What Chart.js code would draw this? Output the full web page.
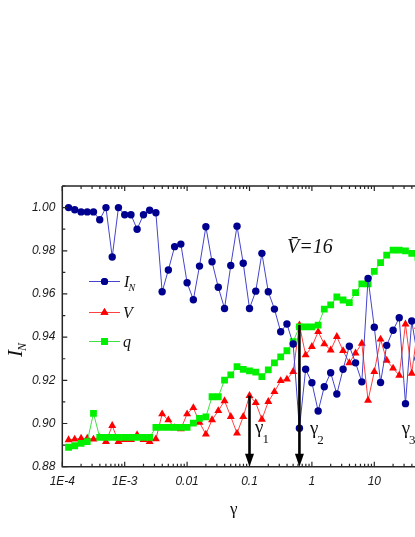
<!DOCTYPE html>
<html><head><meta charset="utf-8">
<script src="https://cdn.jsdelivr.net/npm/chart.js@4.4.0/dist/chart.umd.min.js"></script>
<style>
html,body{margin:0;padding:0;background:#fff;overflow:hidden;}
#wrap{width:415px;height:537px;overflow:hidden;position:relative;background:#fff;}
canvas{display:block;}
</style></head><body>
<div id="wrap"><canvas id="c" width="480" height="537"></canvas></div>
<script>
// ---- data ----
const gamma = [
  1.26e-4,1.58e-4,2.0e-4,2.51e-4,3.16e-4,3.98e-4,5.01e-4,6.31e-4,7.94e-4,1.0e-3,
  1.26e-3,1.58e-3,2.0e-3,2.51e-3,3.16e-3,3.98e-3,5.01e-3,6.31e-3,7.94e-3,0.01,
  0.0126,0.0158,0.02,0.0251,0.0316,0.0398,0.0501,0.0631,0.0794,0.1,
  0.126,0.158,0.2,0.251,0.316,0.398,0.501,0.631,0.794,1,
  1.26,1.58,2.0,2.51,3.16,3.98,5.01,6.31,7.94,10,
  12.6,15.8,20,25.1,31.6,39.8,50.1
];
const iN = [
  1.000,0.999,0.998,0.998,0.998,0.9944,1.000,0.9771,1.000,0.9967,
  0.9967,0.990,0.9967,0.9988,0.9976,0.961,0.9711,0.9819,0.9831,0.9652,
  0.9573,0.9729,0.9911,0.9749,0.9631,0.9533,0.9732,0.9914,0.9742,0.9533,
  0.9613,0.9788,0.961,0.953,0.9425,0.9461,0.9368,0.8978,0.9251,0.9189,
  0.9058,0.917,0.9235,0.9137,0.9251,0.9358,0.9281,0.9193,0.9672,0.9446,
  0.919,0.9362,0.9432,0.949,0.9092,0.9475,0.930
];
const vVals = [
  0.8924,0.8927,0.8931,0.8931,0.8927,0.8935,0.8916,0.899,0.8916,0.8925,
  0.8925,0.8947,0.8925,0.8916,0.8928,0.9044,0.9016,0.898,0.8975,0.9044,
  0.9073,0.9005,0.895,0.9017,0.9059,0.9105,0.9032,0.8955,0.9032,0.9129,
  0.9096,0.9019,0.9101,0.9147,0.9198,0.9205,0.924,0.9456,0.9317,0.9356,
  0.9425,0.9368,0.934,0.9402,0.9337,0.9281,0.9326,0.9371,0.9107,0.924,
  0.939,0.9292,0.9256,0.9223,0.946,0.9232,0.945
];
const qVals = [
  0.889,0.8897,0.8908,0.8916,0.9047,0.8936,0.8936,0.8936,0.8936,0.8936,
  0.8936,0.8936,0.8936,0.8936,0.8982,0.8982,0.8982,0.8982,0.8982,0.8982,
  0.9002,0.9024,0.9031,0.9124,0.9124,0.9201,0.9225,0.9263,0.9251,0.9244,
  0.9238,0.9217,0.9248,0.9281,0.9309,0.9337,0.9379,0.9448,0.9448,0.9448,
  0.9456,0.953,0.9549,0.9586,0.9572,0.956,0.9606,0.9647,0.9647,0.9705,
  0.9745,0.978,0.9803,0.9803,0.98,0.9788,0.977
];
const seriesNames = ['I_N','V','q'];
const xTickValues = [1e-4,1e-3,0.01,0.1,1,10,100];
const xTickLabels = ['1E-4','1E-3','0.01','0.1','1','10','100'];
const yTickValues = [0.88,0.90,0.92,0.94,0.96,0.98,1.00];
const yTickLabels = ['0.88','0.90','0.92','0.94','0.96','0.98','1.00'];
const yMinorValues = [0.89,0.91,0.93,0.95,0.97,0.99,1.01];
const arrowGamma = [0.1, 0.631];
const arrowTop = [0.9129, 0.9456];
const gammaLabelSubs = ['1','2','3'];
const gammaLabelX = [0.1225, 0.93, 27.5];
const gammaLabelY = [0.8956, 0.8951, 0.8951];
const vbarText = 'V\u0304=16';
const vbarPos = [0.399, 0.9791];

const BLUE='#000090', BLUE_L='#4444cc', RED='#ff0000', RED_L='#ff4040', GREEN='#00f000', GREEN_L='#40e040';

function pts(vals){ return gamma.map((g,i)=>({x:g,y:vals[i]})); }

const decorPlugin = {
  id:'decor',
  afterDatasetsDraw(chart){
    const {ctx, chartArea:a, scales:{x,y}} = chart;
    ctx.save();
    // frame
    ctx.strokeStyle='#262626'; ctx.lineWidth=1.5;
    ctx.beginPath();
    ctx.moveTo(a.left,a.top); ctx.lineTo(a.left,a.bottom); ctx.lineTo(a.right,a.bottom);
    ctx.moveTo(a.left,a.top); ctx.lineTo(a.right,a.top);
    ctx.stroke();
    // ticks (inward)
    ctx.lineWidth=1.2;
    ctx.beginPath();
    x.ticks.forEach(t=>{
      const px = x.getPixelForValue(t.value);
      const len = xTickValues.indexOf(t.value)>=0 ? 5 : 3;
      ctx.moveTo(px,a.bottom); ctx.lineTo(px,a.bottom-len);
      ctx.moveTo(px,a.top); ctx.lineTo(px,a.top+len);
    });
    y.ticks.forEach(t=>{
      const py = y.getPixelForValue(t.value);
      const len = yTickValues.indexOf(t.value)>=0 ? 5 : 3;
      ctx.moveTo(a.left,py); ctx.lineTo(a.left+len,py);
    });
    ctx.stroke();
    // arrows
    ctx.fillStyle='#000'; ctx.strokeStyle='#000';
    arrowGamma.forEach((g,i)=>{
      const px = x.getPixelForValue(g);
      const top = y.getPixelForValue(arrowTop[i]);
      ctx.lineWidth=2.6;
      ctx.beginPath(); ctx.moveTo(px,top); ctx.lineTo(px,a.bottom-10); ctx.stroke();
      ctx.beginPath(); ctx.moveTo(px,a.bottom); ctx.lineTo(px-4.5,a.bottom-13); ctx.lineTo(px+4.5,a.bottom-13); ctx.closePath(); ctx.fill();
    });
    // gamma labels
    ctx.fillStyle='#111'; ctx.textBaseline='alphabetic'; ctx.textAlign='left';
    gammaLabelX.forEach((g,i)=>{
      const px = x.getPixelForValue(g), py = y.getPixelForValue(gammaLabelY[i]);
      ctx.font='19px "Liberation Serif"';
      ctx.fillText('\u03b3',px,py);
      const w = ctx.measureText('\u03b3').width;
      ctx.font='13px "Liberation Serif"';
      ctx.fillText(gammaLabelSubs[i],px+w-1,py+10);
    });
    // V bar = 16
    ctx.font='italic 20px "Liberation Serif"';
    ctx.fillText(vbarText, x.getPixelForValue(vbarPos[0]), y.getPixelForValue(vbarPos[1]));
    // legend
    const legY=[281.5,312.5,341.5];
    const styles=[['circle',BLUE,BLUE_L,3.6],['triangle',RED,RED_L,4.6],['rect',GREEN,GREEN_L,4.8]];
    legY.forEach((ly,i)=>{
      const [ps,fc,lc,r]=styles[i];
      ctx.strokeStyle=lc; ctx.lineWidth=1;
      ctx.beginPath(); ctx.moveTo(89,ly); ctx.lineTo(120,ly); ctx.stroke();
      ctx.fillStyle=fc;
      Chart.helpers.drawPoint(ctx,{pointStyle:ps,radius:r,borderWidth:0,rotation:0},104.5,ly);
      ctx.fill();
      ctx.fillStyle='#111';
      ctx.font='italic 16px "Liberation Serif"';
      const name = seriesNames[i];
      if(name==='I_N'){
        ctx.fillText('I',124,ly+5.5);
        ctx.font='italic 10px "Liberation Serif"';
        ctx.fillText('N',128.5,ly+9);
      } else {
        ctx.fillText(name,123,ly+5.5);
      }
    });
    // axis titles
    ctx.fillStyle='#111';
    ctx.font='17px "Liberation Serif"'; ctx.textAlign='center';
    ctx.fillText('\u03b3', (a.left+415)/2 - 5, 514);
    ctx.save();
    ctx.translate(22,357); ctx.rotate(-Math.PI/2);
    ctx.textAlign='left';
    ctx.font='italic 21px "Liberation Serif"';
    ctx.fillText('I',0,0);
    ctx.font='italic 12px "Liberation Serif"';
    ctx.fillText('N',6,4);
    ctx.restore();
    ctx.restore();
  }
};

new Chart(document.getElementById('c'), {
  type:'line',
  data:{ datasets:[
    {label:seriesNames[0], data:pts(iN), borderColor:BLUE_L, borderWidth:1, pointStyle:'circle', pointRadius:3.7, pointBackgroundColor:BLUE, pointBorderWidth:0, order:0},
    {label:seriesNames[2], data:pts(qVals), borderColor:GREEN_L, borderWidth:1, pointStyle:'rect', pointRadius:4.8, pointBackgroundColor:GREEN, pointBorderWidth:0, order:1},
    {label:seriesNames[1], data:pts(vVals), borderColor:RED_L, borderWidth:1, pointStyle:'triangle', pointRadius:4.6, pointBackgroundColor:RED, pointBorderWidth:0, order:2}
  ]},
  options:{
    responsive:false, animation:false, devicePixelRatio:1,
    layout:{padding:{top:186,left:0,right:43.3,bottom:0}},
    plugins:{legend:{display:false}, tooltip:{enabled:false}},
    elements:{line:{tension:0}},
    scales:{
      x:{type:'logarithmic', min:1e-4, max:100,
        grid:{display:false, drawTicks:false}, border:{display:false},
        afterBuildTicks(scale){
          const t=[];
          for(let i=0;i<xTickValues.length;i++){
            t.push({value:xTickValues[i]});
            if(i<xTickValues.length-1) for(let m=2;m<=9;m++) t.push({value:xTickValues[i]*m});
          }
          scale.ticks=t;
        },
        afterFit(scale){ scale.height=70.3; },
        ticks:{autoSkip:false, maxRotation:0, padding:8, color:'#1a1a1a',
          font:{family:'"Liberation Sans"', size:12, style:'italic'},
          callback(v){ const k=xTickValues.indexOf(v); return k>=0?xTickLabels[k]:''; }}
      },
      y:{type:'linear', min:0.88, max:1.01,
        grid:{display:false, drawTicks:false}, border:{display:false},
        afterBuildTicks(scale){
          const t=[];
          yTickValues.forEach(v=>t.push({value:v}));
          yMinorValues.forEach(v=>t.push({value:v}));
          t.sort((p,q)=>p.value-q.value);
          scale.ticks=t;
        },
        afterFit(scale){ scale.width=62.3; },
        ticks:{autoSkip:false, padding:7, color:'#1a1a1a',
          font:{family:'"Liberation Sans"', size:12, style:'italic'},
          callback(v){ const k=yTickValues.indexOf(v); return k>=0?yTickLabels[k]:''; }}
      }
    }
  },
  plugins:[decorPlugin]
});
</script>
</body></html>
